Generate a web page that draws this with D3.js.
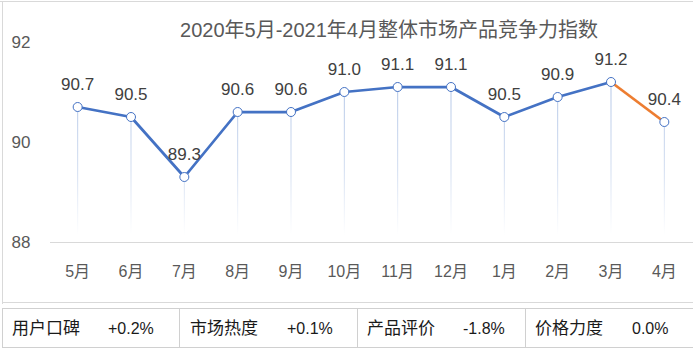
<!DOCTYPE html>
<html><head><meta charset="utf-8">
<script src="https://cdn.jsdelivr.net/npm/d3@7/dist/d3.min.js"></script>
<style>
html,body{margin:0;padding:0;background:#fff;}
svg{display:block;font-family:"Liberation Sans","Noto Sans CJK SC",sans-serif;}
</style></head><body>
<svg id="c" width="693" height="350"></svg>
<script>
const title = "2020年5月-2021年4月整体市场产品竞争力指数";
const months = ["5月","6月","7月","8月","9月","10月","11月","12月","1月","2月","3月","4月"];
const values = [90.7,90.5,89.3,90.6,90.6,91.0,91.1,91.1,90.5,90.9,91.2,90.4];
const yTicks = [88,90,92];
const metricNames = ["用户口碑","市场热度","产品评价","价格力度"];
const metricValues = ["+0.2%","+0.1%","-1.8%","0.0%"];

const svg = d3.select("#c");
const W = 693;
const x = d3.scaleBand().domain(months).range([51, 691]);
const y = d3.scaleLinear().domain([88, 92]).range([242, 42]);
const cx = d => x(d) + x.bandwidth()/2;

// frame
svg.append("line").attr("x1",0).attr("x2",W).attr("y1",1.5).attr("y2",1.5).attr("stroke","#d9d9d9");
svg.append("line").attr("x1",2.5).attr("x2",2.5).attr("y1",1).attr("y2",304).attr("stroke","#d9d9d9");
svg.append("line").attr("x1",2).attr("x2",W).attr("y1",302.5).attr("y2",302.5).attr("stroke","#d9d9d9");

// title
svg.append("text").attr("x",389).attr("y",37).attr("text-anchor","middle")
  .attr("font-size",20).attr("fill","#595959").text(title);

// y labels
svg.selectAll(".yl").data(yTicks).enter().append("text")
  .attr("x",21).attr("y",d=>y(d)+6).attr("text-anchor","middle")
  .attr("font-size",17).attr("fill","#595959").text(d=>d);

// x axis line
svg.append("line").attr("x1",50).attr("x2",W).attr("y1",242.5).attr("y2",242.5).attr("stroke","#d9d9d9").attr("stroke-width",1);

// gradient for drop lines
const defs = svg.append("defs");
const g = defs.append("linearGradient").attr("id","drop").attr("gradientUnits","userSpaceOnUse")
  .attr("x1",0).attr("x2",0).attr("y1",90).attr("y2",235);
g.append("stop").attr("offset","0%").attr("stop-color","#b4c7e7").attr("stop-opacity",1);
g.append("stop").attr("offset","55%").attr("stop-color","#b4c7e7").attr("stop-opacity",0.6);
g.append("stop").attr("offset","100%").attr("stop-color","#b4c7e7").attr("stop-opacity",0);

const pts = months.map((m,i)=>({m, v:values[i]}));
svg.selectAll(".drop").data(pts).enter().append("rect")
  .attr("x",d=>cx(d.m)-0.5).attr("width",1)
  .attr("y",d=>y(d.v)).attr("height",d=>242-y(d.v))
  .attr("fill","url(#drop)");

// x labels
svg.selectAll(".xl").data(months).enter().append("text")
  .attr("x",d=>cx(d)).attr("y",277).attr("text-anchor","middle")
  .attr("font-size",16).attr("fill","#595959").text(d=>d);

// lines
const line = d3.line().x(d=>cx(d.m)).y(d=>y(d.v));
svg.append("path").datum(pts.slice(0,11)).attr("d",line)
  .attr("fill","none").attr("stroke","#4472c4").attr("stroke-width",2.75).attr("stroke-linejoin","round");
svg.append("path").datum(pts.slice(10)).attr("d",line)
  .attr("fill","none").attr("stroke","#ed7d31").attr("stroke-width",2.75);

// points
svg.selectAll(".pt").data(pts).enter().append("circle")
  .attr("cx",d=>cx(d.m)).attr("cy",d=>y(d.v)).attr("r",4.5)
  .attr("fill","#fff").attr("stroke","#4472c4").attr("stroke-width",1);

// value labels
svg.selectAll(".vl").data(pts).enter().append("text")
  .attr("x",d=>cx(d.m)).attr("y",d=>y(d.v)-17).attr("text-anchor","middle")
  .attr("font-size",17).attr("fill","#404040").text(d=>d.v.toFixed(1));

// table
const colX = [2,179,357,525,W];
svg.append("line").attr("x1",2).attr("x2",W).attr("y1",308.5).attr("y2",308.5).attr("stroke","#d0d0d0");
svg.append("line").attr("x1",2).attr("x2",W).attr("y1",347.5).attr("y2",347.5).attr("stroke","#d0d0d0");
colX.slice(0,4).forEach(c=>{
  svg.append("line").attr("x1",c+0.5).attr("x2",c+0.5).attr("y1",308).attr("y2",348).attr("stroke","#d0d0d0");
});
const labelX = [12,190,367,535];
const valX = [108,287,463,632];
metricNames.forEach((n,i)=>{
  svg.append("text").attr("x",labelX[i]).attr("y",334).attr("font-size",17).attr("fill","#1a1a1a")
    .attr("font-family","'Noto Sans CJK SC',sans-serif").text(n);
  svg.append("text").attr("x",valX[i]).attr("y",334).attr("font-size",16).attr("fill","#1a1a1a")
    .attr("font-family","'Liberation Sans',sans-serif").text(metricValues[i]);
});
</script>
</body></html>
